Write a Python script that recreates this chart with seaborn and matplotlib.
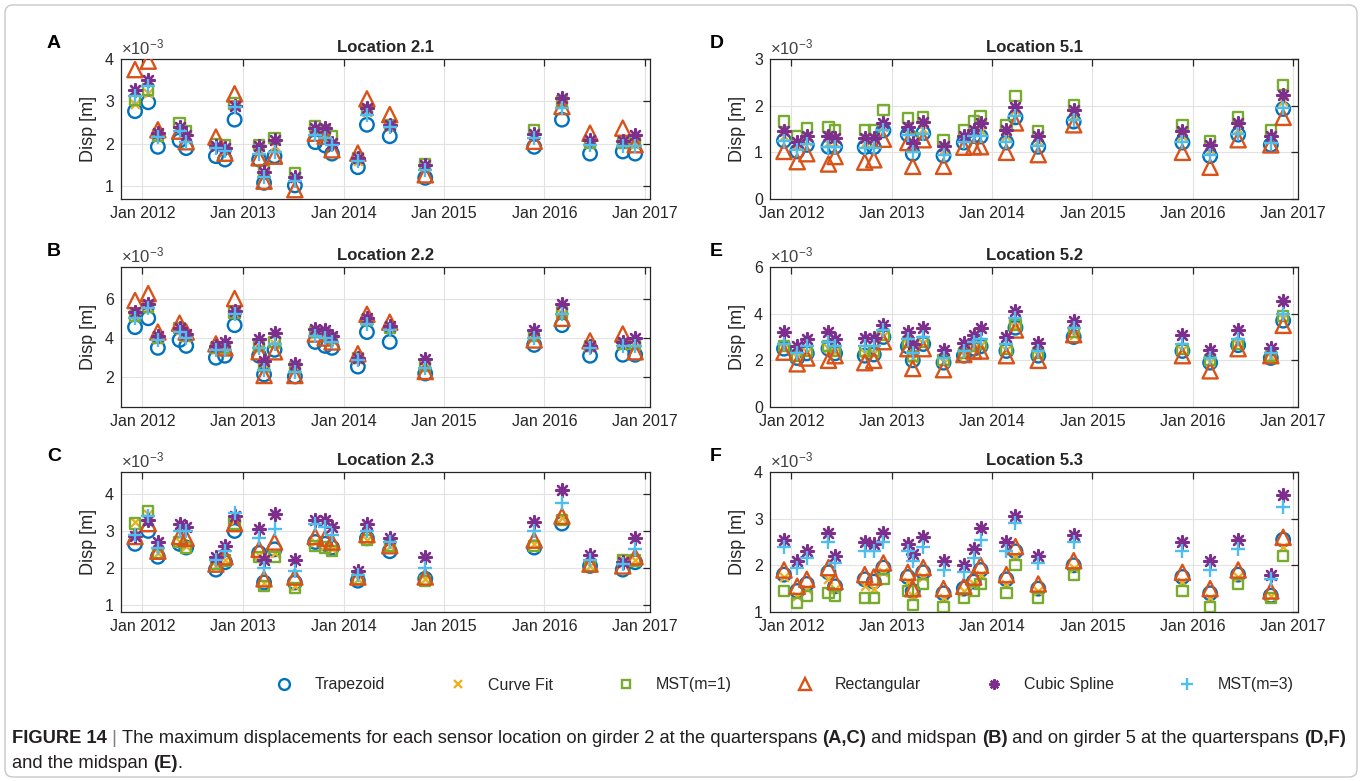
import numpy as np
import pandas as pd
import matplotlib
matplotlib.use("Agg")
import matplotlib.pyplot as plt
import matplotlib.font_manager as fm
from matplotlib.patches import FancyBboxPatch
from matplotlib.transforms import IdentityTransform
from matplotlib.lines import Line2D
import matplotlib.dates as mdates
import seaborn as sns

# ---------------------------------------------------------------- data
dates = pd.to_datetime([
    "2011-12-05", "2012-01-22", "2012-02-26", "2012-05-15", "2012-06-08",
    "2012-09-24", "2012-10-27", "2012-12-01", "2013-02-28", "2013-03-18",
    "2013-04-25", "2013-07-08", "2013-09-20", "2013-10-26", "2013-11-20",
    "2014-02-22", "2014-03-27", "2014-06-18", "2014-10-25", "2015-11-25",
    "2016-03-05", "2016-06-15", "2016-10-12", "2016-11-26",
])

methods = ["Trapezoid", "Curve Fit", "MST(m=1)", "Rectangular", "Cubic Spline", "MST(m=3)"]
panel_letters = ["A", "B", "C", "D", "E", "F"]
panel_titles = ["Location 2.1", "Location 2.2", "Location 2.3",
                "Location 5.1", "Location 5.2", "Location 5.3"]
year_ticks = [2012, 2013, 2014, 2015, 2016, 2017]

# displacement values in units of 1e-3 m
trap_A = [2.77, 2.98, 1.93, 2.08, 1.90, 1.71, 1.63, 2.57, 1.63, 1.08, 1.71, 1.02, 2.04, 1.96, 1.77, 1.45, 2.45, 2.18, 1.20, 1.93, 2.57, 1.77, 1.82, 1.77]
curve_A = [2.95, 3.20, 2.20, 2.38, 2.15, 1.95, 1.85, 2.90, 1.85, 1.25, 1.95, 1.20, 2.30, 2.25, 2.05, 1.60, 2.75, 2.45, 1.45, 2.20, 2.95, 2.05, 2.00, 2.00]
mst1_A = [3.04, 3.28, 2.20, 2.49, 2.30, 2.00, 1.98, 2.95, 1.98, 1.37, 2.14, 1.31, 2.41, 2.32, 2.18, 1.67, 2.80, 2.45, 1.51, 2.32, 3.00, 2.02, 2.02, 2.06]
rect_A = [3.75, 3.95, 2.33, 2.30, 2.05, 2.16, 1.78, 3.18, 1.67, 1.12, 1.71, 0.92, 2.25, 2.18, 1.86, 1.78, 3.06, 2.69, 1.27, 2.06, 2.88, 2.25, 2.37, 1.98]
spline_A = [3.28, 3.50, 2.25, 2.40, 2.20, 1.95, 1.90, 2.90, 1.94, 1.33, 2.10, 1.23, 2.37, 2.37, 2.02, 1.67, 2.85, 2.45, 1.51, 2.24, 3.08, 2.10, 2.06, 2.22]
mst3_A = [3.13, 3.37, 2.15, 2.30, 2.05, 1.90, 1.82, 2.88, 1.77, 1.21, 1.80, 1.12, 2.22, 2.14, 1.98, 1.59, 2.69, 2.40, 1.39, 2.14, 2.85, 1.98, 1.94, 1.94]

trap_B = [4.55, 5.00, 3.50, 3.90, 3.60, 3.00, 3.10, 4.65, 3.10, 2.15, 3.40, 2.05, 3.80, 3.60, 3.50, 2.55, 4.30, 3.80, 2.20, 3.65, 4.65, 3.10, 3.15, 3.15]
curve_B = [5.05, 5.50, 3.95, 4.40, 4.05, 3.45, 3.40, 5.25, 3.50, 2.50, 3.70, 2.40, 4.20, 4.10, 3.90, 2.95, 4.85, 4.45, 2.55, 4.05, 5.20, 3.55, 3.65, 3.60]
mst1_B = [5.10, 5.60, 4.00, 4.50, 4.10, 3.50, 3.50, 5.30, 3.60, 2.60, 3.80, 2.50, 4.30, 4.20, 4.00, 3.00, 4.90, 4.50, 2.60, 4.10, 5.30, 3.60, 3.70, 3.70]
rect_B = [5.90, 6.25, 4.30, 4.75, 4.30, 3.70, 3.50, 6.00, 3.30, 2.10, 3.30, 2.10, 4.20, 4.00, 3.80, 3.20, 5.20, 4.80, 2.30, 3.90, 5.00, 3.85, 4.20, 3.30]
spline_B = [5.30, 5.70, 4.10, 4.50, 4.20, 3.60, 3.80, 5.35, 3.95, 2.85, 4.25, 2.70, 4.45, 4.40, 4.10, 3.00, 5.00, 4.60, 2.95, 4.40, 5.70, 3.60, 3.80, 4.00]
mst3_B = [5.00, 5.50, 3.90, 4.30, 4.00, 3.40, 3.40, 5.20, 3.50, 2.40, 3.70, 2.30, 4.10, 4.00, 3.80, 2.90, 4.70, 4.40, 2.50, 4.00, 5.20, 3.50, 3.60, 3.60]

trap_C = [2.65, 3.00, 2.30, 2.65, 2.55, 1.95, 2.15, 3.00, 2.40, 1.60, 2.50, 1.60, 2.70, 2.65, 2.55, 1.65, 2.80, 2.45, 1.70, 2.55, 3.20, 2.05, 1.95, 2.15]
curve_C = [3.25, 3.45, 2.40, 2.70, 2.60, 2.05, 2.20, 3.30, 2.35, 1.60, 2.40, 1.50, 2.70, 2.60, 2.50, 1.70, 2.75, 2.60, 1.70, 2.65, 3.35, 2.05, 2.20, 2.20]
mst1_C = [3.20, 3.55, 2.40, 2.70, 2.55, 2.10, 2.20, 3.20, 2.30, 1.50, 2.30, 1.45, 2.60, 2.55, 2.45, 1.70, 2.75, 2.60, 1.65, 2.60, 3.30, 2.05, 2.20, 2.20]
rect_C = [2.85, 3.20, 2.45, 2.85, 2.80, 2.10, 2.30, 3.20, 2.50, 1.70, 2.70, 1.75, 2.85, 2.80, 2.70, 1.75, 2.90, 2.60, 1.75, 2.75, 3.40, 2.10, 2.05, 2.30]
spline_C = [2.85, 3.30, 2.70, 3.20, 3.10, 2.30, 2.60, 3.40, 3.05, 2.20, 3.45, 2.20, 3.30, 3.30, 3.10, 1.90, 3.20, 2.80, 2.30, 3.25, 4.10, 2.35, 2.15, 2.80]
mst3_C = [2.90, 3.40, 2.55, 3.00, 3.00, 2.20, 2.45, 3.50, 2.80, 2.00, 3.05, 1.90, 3.20, 3.10, 2.90, 1.80, 3.00, 2.70, 2.00, 3.00, 3.75, 2.20, 2.10, 2.50]

trap_D = [1.25, 1.02, 1.16, 1.12, 1.12, 1.11, 1.11, 1.47, 1.38, 0.97, 1.41, 0.93, 1.21, 1.35, 1.34, 1.21, 1.75, 1.12, 1.66, 1.21, 0.92, 1.38, 1.16, 1.93]
curve_D = [1.35, 1.15, 1.25, 1.20, 1.20, 1.20, 1.20, 1.55, 1.45, 1.10, 1.50, 1.05, 1.30, 1.45, 1.45, 1.35, 1.90, 1.25, 1.80, 1.35, 1.05, 1.50, 1.30, 2.10]
mst1_D = [1.66, 1.34, 1.52, 1.55, 1.48, 1.48, 1.48, 1.90, 1.73, 1.30, 1.75, 1.27, 1.47, 1.66, 1.77, 1.59, 2.21, 1.45, 2.02, 1.59, 1.25, 1.75, 1.47, 2.45]
rect_D = [1.02, 0.80, 0.97, 0.75, 0.91, 0.79, 0.84, 1.28, 1.21, 0.70, 1.27, 0.70, 1.11, 1.12, 1.12, 1.00, 1.63, 0.95, 1.59, 1.00, 0.68, 1.27, 1.16, 1.75]
spline_D = [1.45, 1.23, 1.35, 1.34, 1.30, 1.30, 1.30, 1.63, 1.54, 1.20, 1.66, 1.14, 1.35, 1.48, 1.63, 1.48, 1.98, 1.34, 1.91, 1.45, 1.16, 1.63, 1.35, 2.23]
mst3_D = [1.25, 1.05, 1.18, 1.12, 1.12, 1.10, 1.10, 1.48, 1.38, 1.00, 1.40, 0.95, 1.22, 1.35, 1.36, 1.22, 1.78, 1.13, 1.70, 1.22, 0.95, 1.40, 1.20, 1.95]

trap_E = [2.50, 2.10, 2.30, 2.50, 2.30, 2.20, 2.25, 3.00, 2.60, 2.00, 2.70, 1.90, 2.20, 2.50, 2.60, 2.40, 3.40, 2.20, 3.00, 2.40, 1.90, 2.65, 2.10, 3.70]
curve_E = [2.55, 2.15, 2.35, 2.55, 2.35, 2.30, 2.30, 3.05, 2.70, 2.10, 2.75, 1.95, 2.25, 2.55, 2.65, 2.45, 3.45, 2.25, 3.10, 2.45, 1.95, 2.70, 2.15, 3.80]
mst1_E = [2.60, 2.20, 2.40, 2.60, 2.40, 2.40, 2.40, 3.10, 2.80, 2.20, 2.80, 2.00, 2.30, 2.60, 2.70, 2.50, 3.50, 2.30, 3.20, 2.50, 2.00, 2.70, 2.20, 3.90]
rect_E = [2.35, 1.85, 2.10, 2.00, 2.20, 1.90, 2.00, 2.80, 2.50, 1.65, 2.50, 1.60, 2.25, 2.40, 2.40, 2.20, 3.30, 2.00, 3.10, 2.20, 1.55, 2.50, 2.20, 3.50]
spline_E = [3.20, 2.60, 2.90, 3.20, 2.90, 2.95, 2.95, 3.50, 3.20, 2.70, 3.40, 2.45, 2.75, 3.10, 3.40, 3.00, 4.10, 2.75, 3.70, 3.10, 2.45, 3.30, 2.55, 4.55]
mst3_E = [2.70, 2.30, 2.60, 2.80, 2.60, 2.60, 2.60, 3.30, 2.90, 2.30, 3.00, 2.10, 2.40, 2.80, 2.90, 2.70, 3.80, 2.40, 3.40, 2.70, 2.10, 2.90, 2.30, 4.00]

trap_F = [1.80, 1.45, 1.60, 1.85, 1.55, 1.70, 1.65, 1.95, 1.75, 1.45, 1.85, 1.40, 1.50, 1.65, 1.90, 1.70, 2.30, 1.50, 2.00, 1.75, 1.40, 1.80, 1.35, 2.55]
curve_F = [1.75, 1.35, 1.50, 1.70, 1.50, 1.55, 1.50, 1.85, 1.65, 1.35, 1.75, 1.30, 1.45, 1.60, 1.80, 1.60, 2.20, 1.45, 1.95, 1.65, 1.30, 1.75, 1.35, 2.40]
mst1_F = [1.45, 1.20, 1.35, 1.40, 1.35, 1.30, 1.30, 1.70, 1.45, 1.15, 1.60, 1.10, 1.30, 1.45, 1.60, 1.40, 2.00, 1.30, 1.80, 1.45, 1.10, 1.60, 1.30, 2.20]
rect_F = [1.90, 1.55, 1.70, 1.95, 1.65, 1.80, 1.75, 2.05, 1.85, 1.50, 1.95, 1.50, 1.55, 1.75, 2.00, 1.80, 2.40, 1.60, 2.10, 1.85, 1.50, 1.90, 1.45, 2.60]
spline_F = [2.55, 2.10, 2.30, 2.70, 2.20, 2.50, 2.45, 2.70, 2.45, 2.25, 2.60, 2.10, 2.00, 2.35, 2.80, 2.50, 3.05, 2.20, 2.65, 2.50, 2.10, 2.55, 1.80, 3.50]
mst3_F = [2.40, 1.95, 2.15, 2.50, 2.05, 2.30, 2.30, 2.50, 2.30, 2.10, 2.40, 1.90, 1.85, 2.15, 2.55, 2.30, 2.90, 2.05, 2.50, 2.30, 1.90, 2.35, 1.70, 3.25]

panel_series = {
    "A": [trap_A, curve_A, mst1_A, rect_A, spline_A, mst3_A],
    "B": [trap_B, curve_B, mst1_B, rect_B, spline_B, mst3_B],
    "C": [trap_C, curve_C, mst1_C, rect_C, spline_C, mst3_C],
    "D": [trap_D, curve_D, mst1_D, rect_D, spline_D, mst3_D],
    "E": [trap_E, curve_E, mst1_E, rect_E, spline_E, mst3_E],
    "F": [trap_F, curve_F, mst1_F, rect_F, spline_F, mst3_F],
}

y_limits = {"A": (0.7, 4.0), "B": (0.5, 7.6), "C": (0.8, 4.6),
            "D": (0.0, 3.0), "E": (0.0, 6.0), "F": (1.0, 4.0)}
y_ticks = {"A": [1, 2, 3, 4], "B": [2, 4, 6], "C": [1, 2, 3, 4],
           "D": [0, 1, 2, 3], "E": [0, 2, 4, 6], "F": [1, 2, 3, 4]}

rows = []
for letter, series in panel_series.items():
    for method, vals in zip(methods, series):
        for d, v in zip(dates, vals):
            rows.append({"panel": letter, "method": method, "date": d, "disp": v})
df = pd.DataFrame(rows)

# ---------------------------------------------------------------- style
sns.set_theme(style="white")
plt.rcParams["font.family"] = ["Liberation Sans", "DejaVu Sans"]
plt.rcParams["mathtext.fontset"] = "custom"
plt.rcParams["mathtext.rm"] = "Liberation Sans"
plt.rcParams["mathtext.it"] = "Liberation Sans:italic"

colors = {"Trapezoid": "#0072BD", "Curve Fit": "#EDB120", "MST(m=1)": "#77AC30",
          "Rectangular": "#D95319", "Cubic Spline": "#7E2F8E", "MST(m=3)": "#4DBEEE"}
asterisk = (8, 2, 0)
marker_spec = {
    "Trapezoid": dict(marker="o", s=95, hollow=True),
    "Curve Fit": dict(marker="x", s=40, hollow=False),
    "MST(m=1)": dict(marker="s", s=55, hollow=True),
    "Rectangular": dict(marker="^", s=120, hollow=True),
    "Cubic Spline": dict(marker=asterisk, s=85, hollow=False),
    "MST(m=3)": dict(marker="+", s=110, hollow=False),
}
LW = 1.7
axis_col = "#262626"

W, H = 1362, 781
fig = plt.figure(figsize=(W / 100, H / 100), dpi=100)

col_x = [(121, 650), (770, 1298)]
row_y = [(59, 199), (267, 407), (472, 612)]
letter_dx = [-0.14, -0.115]

def px_axes(x0, x1, y0, y1):
    return fig.add_axes([x0 / W, 1 - y1 / H, (x1 - x0) / W, (y1 - y0) / H])

xmin, xmax = pd.Timestamp("2011-10-15"), pd.Timestamp("2017-01-19")

for i, letter in enumerate(panel_letters):
    c, r = divmod(i, 3)
    ax = px_axes(col_x[c][0], col_x[c][1], row_y[r][0], row_y[r][1])
    sub = df[df["panel"] == letter]
    for k, method in enumerate(methods):
        m = sub[sub["method"] == method]
        spec = marker_spec[method]
        kws = dict(marker=spec["marker"], s=spec["s"], linewidth=LW,
                   color=colors[method], legend=False, zorder=3 + k)
        if spec["hollow"]:
            kws.update(facecolor="none", edgecolor=colors[method])
        sns.scatterplot(data=m, x="date", y="disp", ax=ax, **kws)

    ax.set_xlim(xmin, xmax)
    ax.set_ylim(*y_limits[letter])
    ax.set_xticks([pd.Timestamp(f"{y}-01-01") for y in year_ticks])
    ax.xaxis.set_major_formatter(mdates.DateFormatter("%b %Y"))
    ax.set_yticks(y_ticks[letter])
    ax.grid(True, color="#e2e2e2", linewidth=0.8)
    ax.set_axisbelow(True)
    for sp in ax.spines.values():
        sp.set_color(axis_col)
        sp.set_linewidth(0.9)
        sp.set_visible(True)
    ax.tick_params(direction="in", length=5, width=0.9, color=axis_col,
                   top=True, right=True, labelsize=11.5, labelcolor="#262626",
                   pad=5)
    ax.set_xlabel("")
    ax.set_ylabel("Disp [m]", fontsize=13, color="#262626", labelpad=6)
    ax.set_title(panel_titles[i], fontsize=12, fontweight="bold", pad=5)
    ax.text(0.0, 1.012, r"$\times10^{-3}$", transform=ax.transAxes,
            ha="left", va="bottom", fontsize=12, color="#404040")
    ax.text(letter_dx[c], 1.05, letter, transform=ax.transAxes, ha="left",
            va="bottom", fontsize=14, fontweight="bold", color="black")

# legend
handles = []
for method in methods:
    spec = marker_spec[method]
    handles.append(Line2D([], [], linestyle="none", marker=spec["marker"],
                          markersize=np.sqrt(spec["s"]) * 0.8,
                          markerfacecolor="none" if spec["hollow"] else colors[method],
                          markeredgecolor=colors[method], markeredgewidth=LW,
                          label=method))
fig.legend(handles=handles, loc="center", bbox_to_anchor=(784 / W, 1 - 685 / H),
           ncol=6, frameon=False, fontsize=11.5, handlelength=1.2,
           handletextpad=1.3, columnspacing=3.95)

# caption
def has_font(name):
    try:
        fm.findfont(fm.FontProperties(family=name), fallback_to_default=False)
        return True
    except Exception:
        return False

cap_family = "Liberation Sans"
for cand in ["Liberation Sans Narrow", "DejaVu Sans Condensed"]:
    if has_font(cand):
        cap_family = cand
        break
renderer = fig.canvas.get_renderer()

ink = "#231f20"
line1 = [("FIGURE 14", True, ink), (" | ", False, "#7f7f7f"),
         ("The maximum displacements for each sensor location on girder 2 at the quarterspans ", False, ink),
         ("(A,C)", True, ink), (" and midspan ", False, ink), ("(B)", True, ink),
         (" and on girder 5 at the quarterspans ", False, ink), ("(D,F)", True, ink)]
line2 = [("and the midspan ", False, ink), ("(E)", True, ink), (".", False, ink)]

def draw_runs(runs, x_px, y_px, size):
    x = x_px
    artists = []
    for txt, bold, col in runs:
        t = fig.text(x / W, 1 - y_px / H, txt, fontsize=size, family=cap_family,
                     fontweight="bold" if bold else "normal", color=col,
                     ha="left", va="baseline")
        x += t.get_window_extent(renderer).width
        artists.append(t)
    return artists, x - x_px

size = 12.0
arts, width = draw_runs(line1, 12, 743, size)
for a in arts:
    a.remove()
size = size * 1336 / width
draw_runs(line1, 12, 743, size)
draw_runs(line2, 12, 768, size)

# outer frame
frame = FancyBboxPatch((5, 4), W - 10, H - 9,
                       boxstyle="round,pad=0,rounding_size=8",
                       transform=IdentityTransform(), facecolor="none",
                       edgecolor="#c8c8c8", linewidth=1.0)
fig.patches.append(frame)

fig.savefig("out.png", dpi=100)
